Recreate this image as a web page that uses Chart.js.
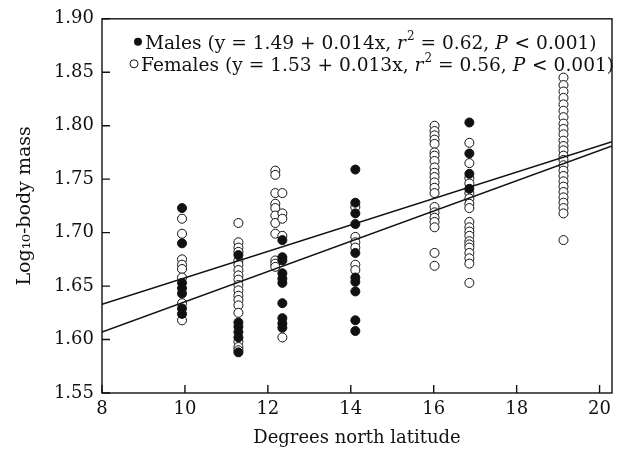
<!DOCTYPE html>
<html>
<head>
<meta charset="utf-8">
<script src="https://cdn.jsdelivr.net/npm/chart.js@4"></script>
<style>
  html, body { margin: 0; padding: 0; background: #fff; }
  #wrap { width: 634px; height: 453px; }
</style>
</head>
<body>
<div id="wrap"><canvas id="lat-chart" width="634" height="453"></canvas></div>
<script>
// latitude (x) and log10 body mass (y)
const maleLat = [
  9.93, 9.93, 9.93, 9.93, 9.93, 9.93, 9.93,
  11.29, 11.29, 11.29, 11.29, 11.29, 11.29,
  12.35, 12.35, 12.35, 12.35, 12.35, 12.35, 12.35, 12.35, 12.35, 12.35,
  14.11, 14.11, 14.11, 14.11, 14.11, 14.11, 14.11, 14.11, 14.11, 14.11,
  16.86, 16.86, 16.86, 16.86
];
const maleMass = [
  1.723, 1.690, 1.653, 1.648, 1.643, 1.629, 1.624,
  1.679, 1.616, 1.612, 1.607, 1.602, 1.588,
  1.693, 1.677, 1.674, 1.662, 1.657, 1.653, 1.634, 1.620, 1.615, 1.611,
  1.759, 1.728, 1.718, 1.708, 1.681, 1.658, 1.654, 1.645, 1.618, 1.608,
  1.803, 1.774, 1.755, 1.741
];

const femaleLat = [
  9.93, 9.93, 9.93, 9.93, 9.93, 9.93, 9.93, 9.93,
  11.29, 11.29, 11.29, 11.29, 11.29, 11.29, 11.29, 11.29, 11.29, 11.29, 11.29, 11.29, 11.29, 11.29, 11.29, 11.29, 11.29, 11.29,
  12.18, 12.18, 12.18, 12.18, 12.18, 12.18, 12.18, 12.18, 12.18, 12.18, 12.18,
  12.35, 12.35, 12.35, 12.35, 12.35,
  14.11, 14.11, 14.11, 14.11, 14.11, 14.11,
  16.02, 16.02, 16.02, 16.02, 16.02, 16.02, 16.02, 16.02, 16.02, 16.02, 16.02, 16.02, 16.02, 16.02, 16.02, 16.02, 16.02, 16.02, 16.02, 16.02, 16.02,
  16.86, 16.86, 16.86, 16.86, 16.86, 16.86, 16.86, 16.86, 16.86, 16.86, 16.86, 16.86, 16.86, 16.86, 16.86, 16.86, 16.86, 16.86, 16.86,
  19.13, 19.13, 19.13, 19.13, 19.13, 19.13, 19.13, 19.13, 19.13, 19.13, 19.13, 19.13, 19.13,
  19.13, 19.13, 19.13, 19.13, 19.13, 19.13, 19.13, 19.13, 19.13, 19.13, 19.13, 19.13, 19.13
];
const femaleMass = [
  1.713, 1.699, 1.675, 1.670, 1.666, 1.658, 1.634, 1.618,
  1.709, 1.691, 1.686, 1.682, 1.674, 1.670, 1.665, 1.660, 1.656, 1.651, 1.646, 1.641, 1.637, 1.632, 1.625, 1.598, 1.593, 1.590,
  1.758, 1.754, 1.737, 1.727, 1.723, 1.716, 1.709, 1.699, 1.674, 1.671, 1.668,
  1.737, 1.718, 1.713, 1.697, 1.602,
  1.724, 1.696, 1.691, 1.686, 1.670, 1.665,
  1.800, 1.795, 1.791, 1.787, 1.783, 1.775, 1.772, 1.767, 1.761, 1.756, 1.752, 1.747, 1.742, 1.737, 1.724, 1.719, 1.714, 1.710, 1.705, 1.681, 1.669,
  1.784, 1.765, 1.751, 1.746, 1.737, 1.732, 1.727, 1.723, 1.710, 1.705, 1.701, 1.697, 1.692, 1.689, 1.686, 1.681, 1.676, 1.671, 1.653,
  1.845, 1.838, 1.832, 1.826, 1.820, 1.814, 1.808, 1.802, 1.797, 1.792, 1.786, 1.781, 1.777,
  1.772, 1.768, 1.763, 1.758, 1.753, 1.748, 1.743, 1.738, 1.733, 1.728, 1.723, 1.718, 1.693
];

// fitted lines as drawn (end points at the plot edges)
const lineLat = [8, 20.3];
const maleFit = [1.607, 1.781];
const femaleFit = [1.633, 1.785];

const xTicks = [8, 10, 12, 14, 16, 18, 20];
const yTicks = [1.55, 1.60, 1.65, 1.70, 1.75, 1.80, 1.85, 1.90];

const legendRows = [
  { filled: true,  name: 'Males', eq: 'y = 1.49 + 0.014x', r2: '0.62', p: '0.001' },
  { filled: false, name: 'Females', eq: 'y = 1.53 + 0.013x', r2: '0.56', p: '0.001' }
];

const FONT = 'DejaVu Serif';
const INK = '#111';

const toPts = (xs, ys) => xs.map((x, i) => ({ x: x, y: ys[i] }));

// box round the plot, ticks pointing inward, and the legend text
const framePlugin = {
  id: 'frame',
  afterDatasetsDraw(chart) {
    const { ctx, chartArea: a, scales } = chart;
    ctx.save();
    ctx.strokeStyle = INK;
    ctx.lineWidth = 1.4;
    ctx.strokeRect(a.left, a.top, a.right - a.left, a.bottom - a.top);
    ctx.beginPath();
    xTicks.forEach(v => {
      const px = scales.x.getPixelForValue(v);
      ctx.moveTo(px, a.bottom); ctx.lineTo(px, a.bottom - 8);
    });
    yTicks.forEach(v => {
      const py = scales.y.getPixelForValue(v);
      ctx.moveTo(a.left, py); ctx.lineTo(a.left + 8, py);
    });
    ctx.stroke();
    ctx.restore();
  },
  afterDraw(chart) {
    const { ctx, chartArea: a } = chart;
    const size = 18.6;
    ctx.save();
    ctx.fillStyle = INK;
    ctx.strokeStyle = INK;
    ctx.textBaseline = 'alphabetic';
    legendRows.forEach((row, i) => {
      const base = a.top + 30 + i * 22;
      const x0 = a.left + (i === 0 ? 31 : 27);
      ctx.beginPath();
      ctx.arc(x0 + 5, base - 7, 4, 0, Math.PI * 2);
      if (row.filled) ctx.fill();
      else { ctx.lineWidth = 1; ctx.stroke(); }
      const parts = [
        [row.name + ' (' + row.eq + ', ', '', 0],
        ['r', 'italic ', 0],
        ['2', '', 1],
        [' = ' + row.r2 + ', ', '', 0],
        ['P', 'italic ', 0],
        [' < ' + row.p + ')', '', 0]
      ];
      let x = x0 + 12;
      parts.forEach(([txt, style, sup]) => {
        const fs = sup ? Math.round(size * 0.62) : size;
        ctx.font = style + fs + 'px "' + FONT + '"';
        ctx.fillText(txt, x, sup ? base - 9 : base);
        x += ctx.measureText(txt).width + (style ? 1 : 0);
      });
    });
    ctx.restore();
  }
};

new Chart(document.getElementById('lat-chart'), {
  type: 'scatter',
  data: {
    datasets: [
      {
        label: 'Males fit', type: 'line', data: toPts(lineLat, maleFit),
        borderColor: INK, borderWidth: 1.5, pointRadius: 0, fill: false, order: 0
      },
      {
        label: 'Females fit', type: 'line', data: toPts(lineLat, femaleFit),
        borderColor: INK, borderWidth: 1.5, pointRadius: 0, fill: false, order: 0
      },
      {
        label: 'Males', data: toPts(maleLat, maleMass),
        pointRadius: 4.5, pointBackgroundColor: INK, pointBorderColor: INK, pointBorderWidth: 1, order: 1
      },
      {
        label: 'Females', data: toPts(femaleLat, femaleMass),
        pointRadius: 4.5, pointBackgroundColor: '#fff', pointBorderColor: INK, pointBorderWidth: 1, order: 2
      }
    ]
  },
  options: {
    responsive: false,
    animation: false,
    layout: { padding: { top: 17, right: 22, left: 0, bottom: 0 } },
    plugins: { legend: { display: false }, tooltip: { enabled: false } },
    scales: {
      x: {
        type: 'linear', min: 8, max: 20.3,
        afterBuildTicks: s => { s.ticks = xTicks.map(v => ({ value: v })); },
        afterFit: s => { s.height = 60; },
        grid: { display: false, drawTicks: false },
        border: { display: false },
        ticks: { color: INK, font: { family: FONT, size: 18 }, padding: 6, maxRotation: 0 },
        title: { display: true, text: 'Degrees north latitude', color: INK, font: { family: FONT, size: 18 }, padding: { top: 4 } }
      },
      y: {
        type: 'linear', min: 1.55, max: 1.90,
        afterBuildTicks: s => { s.ticks = yTicks.map(v => ({ value: v })); },
        afterFit: s => { s.width = 102; },
        grid: { display: false, drawTicks: false },
        border: { display: false },
        ticks: { color: INK, font: { family: FONT, size: 18 }, padding: 8, callback: v => v.toFixed(2) },
        title: { display: true, text: 'Log₁₀-body mass', color: INK, font: { family: FONT, size: 19 }, padding: { top: 14, bottom: 0 } }
      }
    }
  },
  plugins: [framePlugin]
});
</script>
</body>
</html>
